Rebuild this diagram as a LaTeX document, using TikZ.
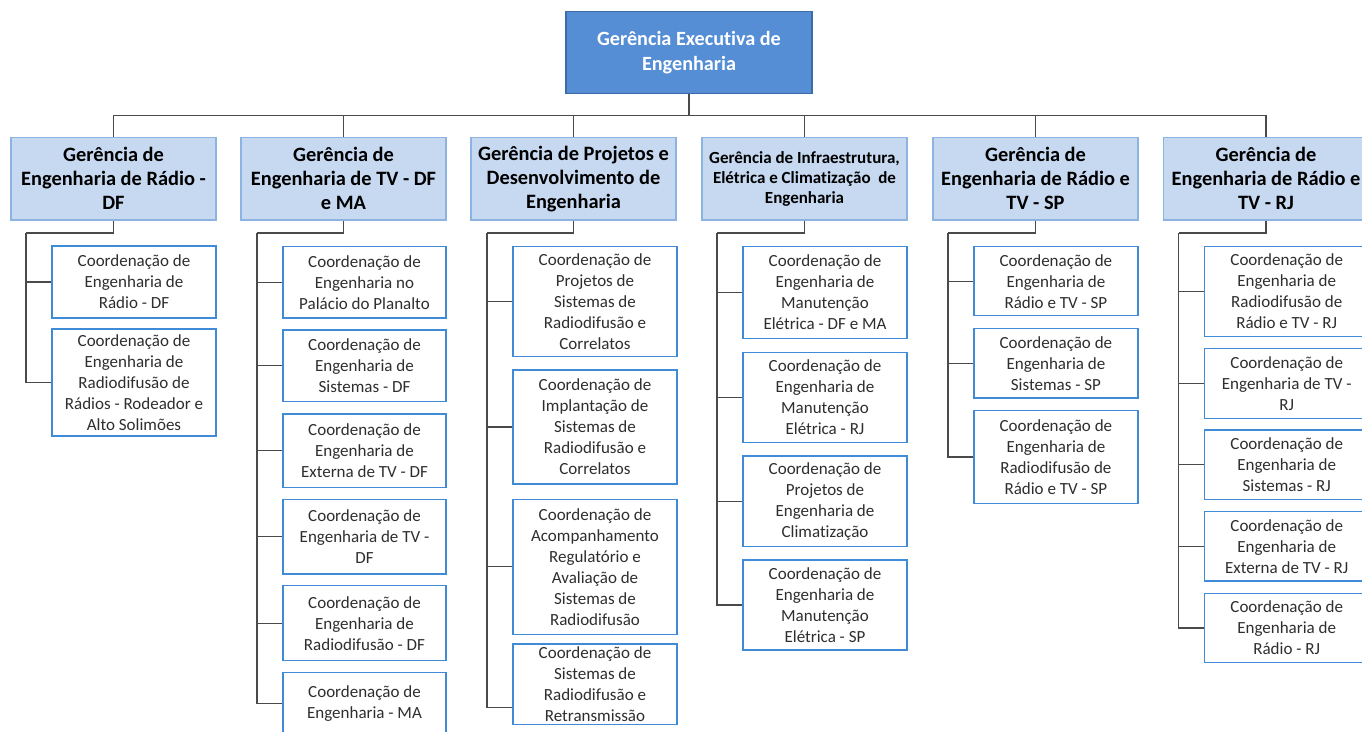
\documentclass[tikz,border=0pt]{standalone}
\usepackage{fontspec}
\setmainfont{Carlito}[Ligatures=CommonOff]
\definecolor{topfill}{HTML}{558ED5}
\definecolor{topline}{HTML}{3B6BA8}
\definecolor{gfill}{HTML}{C6D9F1}
\definecolor{gline}{HTML}{8DB3E2}
\definecolor{cline}{HTML}{3F8BD8}
\definecolor{ctext}{HTML}{2E2E2E}
\definecolor{conncol}{HTML}{4A4A4A}
\tikzset{
  topbox/.style={draw=topline, fill=topfill, line width=1.4pt, minimum width=246pt, minimum height=81.6pt, inner sep=1pt, align=center, text=white, font=\fontsize{20.2}{25}\selectfont\bfseries},
  gbox/.style={draw=gline, fill=gfill, line width=1.4pt, minimum width=205pt, minimum height=82.7pt, inner sep=1pt, align=center, text=black, font=\fontsize{20.4}{24}\selectfont\bfseries},
  gsmall/.style={font=\fontsize{17}{20}\selectfont\bfseries},
  cbox/.style={draw=cline, fill=white, line width=1.4pt, minimum width=164pt, inner sep=1pt, align=center, text=ctext, font=\fontsize{17}{21}\selectfont},
  conn/.style={draw=conncol, line width=1.3pt},
}
\begin{document}
\begin{tikzpicture}[x=1pt,y=-1pt]
\useasboundingbox (0,0) rectangle (1362,731);
% top
\node[topbox] (top) at (689,52.5) {Gerência Executiva de\\Engenharia};
% level 1
\node[gbox] (g1) at (113.5,178.7) {Gerência de\\Engenharia de Rádio -\\DF};
\node[gbox] (g2) at (343.5,178.7) {Gerência de\\Engenharia de TV - DF\\e MA};
\node[gbox] (g3) at (573.5,178.7) {Gerência de Projetos e\\Desenvolvimento de\\Engenharia};
\node[gbox,gsmall] (g4) at (804.5,178.7) {Gerência de Infraestrutura,\\Elétrica e Climatização\ \ de\\Engenharia};
\node[gbox] (g5) at (1035.5,178.7) {Gerência de\\Engenharia de Rádio e\\TV - SP};
\node[gbox] (g6) at (1266,178.7) {Gerência de\\Engenharia de Rádio e\\TV - RJ};
% column 1
\node[cbox,minimum height=72pt] (c11) at (134,282) {Coordenação de\\Engenharia de\\Rádio - DF};
\node[cbox,minimum height=107pt] (c12) at (134,382.5) {Coordenação de\\Engenharia de\\Radiodifusão de\\Rádios - Rodeador e\\Alto Solimões};
% column 2
\node[cbox,minimum width=163pt,minimum height=71.3pt] (c21) at (364.5,282.3) {Coordenação de\\Engenharia no\\Palácio do Planalto};
\node[cbox,minimum width=163pt,minimum height=71.7pt] (c22) at (364.5,365.8) {Coordenação de\\Engenharia de\\Sistemas - DF};
\node[cbox,minimum width=163pt,minimum height=73.7pt] (c23) at (364.5,450.8) {Coordenação de\\Engenharia de\\Externa de TV - DF};
\node[cbox,minimum width=163pt,minimum height=74.7pt] (c24) at (364.5,536.7) {Coordenação de\\Engenharia de TV -\\DF};
\node[cbox,minimum width=163pt,minimum height=75pt] (c25) at (364.5,623.2) {Coordenação de\\Engenharia de\\Radiodifusão - DF};
\node[cbox,minimum width=163pt,minimum height=62pt] (c26) at (364.5,703.3) {Coordenação de\\Engenharia - MA};
% column 3
\node[cbox,minimum height=109.6pt] (c31) at (595,301.5) {Coordenação de\\Projetos de\\Sistemas de\\Radiodifusão e\\Correlatos};
\node[cbox,minimum height=114pt] (c32) at (595,427) {Coordenação de\\Implantação de\\Sistemas de\\Radiodifusão e\\Correlatos};
\node[cbox,minimum height=135pt] (c33) at (595,566.8) {Coordenação de\\Acompanhamento\\Regulatório e\\Avaliação de\\Sistemas de\\Radiodifusão};
\node[cbox,minimum height=80.3pt,inner sep=0pt] (c34) at (595,684.2) {Coordenação de\\Sistemas de\\Radiodifusão e\\Retransmissão};
% column 4
\node[cbox,minimum height=91.6pt] (c41) at (825,292.5) {Coordenação de\\Engenharia de\\Manutenção\\Elétrica - DF e MA};
\node[cbox,minimum height=90pt] (c42) at (825,397.3) {Coordenação de\\Engenharia de\\Manutenção\\Elétrica - RJ};
\node[cbox,minimum height=90.3pt] (c43) at (825,501.2) {Coordenação de\\Projetos de\\Engenharia de\\Climatização};
\node[cbox,minimum height=90pt] (c44) at (825,605) {Coordenação de\\Engenharia de\\Manutenção\\Elétrica - SP};
% column 5
\node[cbox,minimum height=69pt] (c51) at (1055.9,281.2) {Coordenação de\\Engenharia de\\Rádio e TV - SP};
\node[cbox,minimum height=69.3pt] (c52) at (1055.9,363.3) {Coordenação de\\Engenharia de\\Sistemas - SP};
\node[cbox,minimum height=92.6pt] (c53) at (1055.9,457) {Coordenação de\\Engenharia de\\Radiodifusão de\\Rádio e TV - SP};
% column 6
\node[cbox,minimum height=89.6pt] (c61) at (1286.7,291.5) {Coordenação de\\Engenharia de\\Radiodifusão de\\Rádio e TV - RJ};
\node[cbox,minimum height=70pt] (c62) at (1286.7,383.3) {Coordenação de\\Engenharia de TV -\\RJ};
\node[cbox,minimum height=69.7pt] (c63) at (1286.7,464.8) {Coordenação de\\Engenharia de\\Sistemas - RJ};
\node[cbox,minimum height=69.3pt] (c64) at (1286.7,546.3) {Coordenação de\\Engenharia de\\Externa de TV - RJ};
\node[cbox,minimum height=69.4pt] (c65) at (1286.7,628) {Coordenação de\\Engenharia de\\Rádio - RJ};
% connectors top -> level 1
\coordinate (bar) at (689,115.7);
\foreach \g in {g1,g2,g3,g4,g5,g6}{
  \draw[conn] (top.south) -- (bar) -| (\g.north);
}
% trunks
\coordinate (t1) at (26,233);
\coordinate (t2) at (257,233);
\coordinate (t3) at (487,233);
\coordinate (t4) at (717,233);
\coordinate (t5) at (948,233);
\coordinate (t6) at (1178.7,233);
\draw[conn] (g1.south) |- (t1);
\draw[conn] (g2.south) |- (t2);
\draw[conn] (g3.south) |- (t3);
\draw[conn] (g4.south) |- (t4);
\draw[conn] (g5.south) |- (t5);
\draw[conn] (g6.south) |- (t6);
\foreach \c in {c11,c12}{\draw[conn] (t1) |- (\c.west);}
\foreach \c in {c21,c22,c23,c24,c25,c26}{\draw[conn] (t2) |- (\c.west);}
\foreach \c in {c31,c32,c33}{\draw[conn] (t3) |- (\c.west);}
\coordinate (c34in) at ([yshift=-23pt]c34.west);
\draw[conn] (t3) |- (c34in);
\foreach \c in {c41,c42,c43,c44}{\draw[conn] (t4) |- (\c.west);}
\foreach \c in {c51,c52,c53}{\draw[conn] (t5) |- (\c.west);}
\foreach \c in {c61,c62,c63,c64,c65}{\draw[conn] (t6) |- (\c.west);}
\end{tikzpicture}
\end{document}
